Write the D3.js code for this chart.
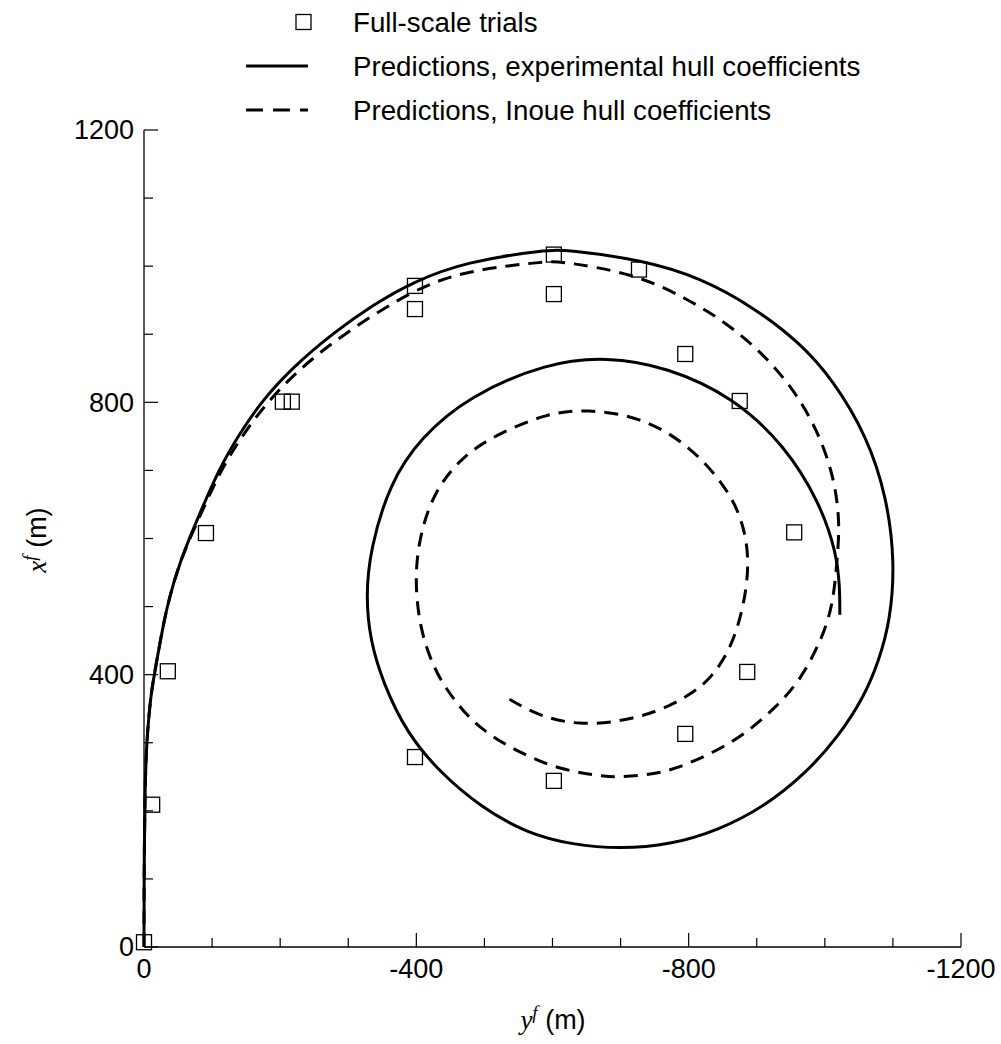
<!DOCTYPE html>
<html>
<head>
<meta charset="utf-8">
<script src="https://cdn.jsdelivr.net/npm/d3@7"></script>
<style>
  body { margin: 0; background: #fff; }
  svg { display: block; font-family: "Liberation Sans", Arial, sans-serif; }
</style>
</head>
<body>
<div id="chart"></div>
<script>
// Turning circle: y^f (m) horizontal, x^f (m) vertical

// Full-scale trials [yf, xf]
const trials = [
  [0, 7], [-12, 209], [-35, 405], [-91, 608], [-204, 801], [-217, 801],
  [-398, 971], [-398, 937], [-602, 1017], [-602, 959], [-727, 995],
  [-795, 871], [-875, 802], [-955, 609], [-886, 404], [-795, 313],
  [-602, 244], [-398, 279]
];

// Predictions, experimental hull coefficients [yf, xf]
const experimental = [
  [0, 0], [0, 94], [-1.5, 241], [-4, 300], [-7, 338], [-11, 377], [-19, 422],
  [-33, 500], [-53, 568], [-82, 637], [-112, 706], [-141, 755], [-173, 802],
  [-219, 852], [-278, 902], [-336, 943], [-395, 977], [-474, 1007], [-592, 1024],
  [-621, 1024], [-733, 1009], [-817, 983], [-895, 940], [-964, 887], [-1012, 833],
  [-1062, 750], [-1091, 661], [-1103, 564], [-1096, 480], [-1080, 422],
  [-1058, 368], [-1020, 309], [-973, 256], [-911, 206], [-845, 172], [-773, 150],
  [-699, 144], [-630, 150], [-562, 167], [-494, 206], [-435, 256], [-386, 314],
  [-351, 388], [-332, 451], [-326, 515], [-332, 583], [-361, 682], [-407, 749],
  [-477, 809], [-591, 858], [-680, 867], [-768, 852], [-865, 808], [-941, 737],
  [-993, 652], [-1017, 579], [-1022, 529], [-1022, 488]
];

// Predictions, Inoue hull coefficients [yf, xf]
const inoue = [
  [0, 0], [0, 94], [-1.5, 241], [-4, 300], [-7, 338], [-11, 377], [-19, 422],
  [-33, 500], [-53, 568], [-83, 635], [-114, 703], [-145, 752], [-179, 798],
  [-225, 846], [-285, 895], [-395, 966], [-474, 994], [-592, 1007],
  [-611, 1007], [-718, 990], [-797, 953], [-865, 911], [-929, 852], [-978, 784],
  [-1012, 701], [-1022, 627], [-1019, 579], [-1012, 499], [-993, 447],
  [-964, 392], [-929, 353], [-885, 314], [-836, 285], [-777, 260], [-743, 253],
  [-699, 250], [-680, 250], [-611, 260], [-552, 285], [-494, 319], [-454, 363],
  [-424, 411], [-405, 470], [-398, 535], [-403, 596], [-424, 667], [-470, 724],
  [-523, 755], [-592, 784], [-650, 790], [-729, 779], [-797, 740], [-852, 681],
  [-880, 627], [-890, 564], [-880, 495], [-861, 436], [-831, 392], [-797, 367],
  [-753, 345], [-699, 331], [-640, 326], [-582, 338], [-533, 366]
];

const xMajorTicks = [0, -400, -800, -1200];
const xMinorTicks = d3.range(0, -1201, -100);
const yMajorTicks = [0, 400, 800, 1200];
const yMinorTicks = d3.range(0, 1201, 100);

const legendItems = [
  { type: 'square', label: 'Full-scale trials' },
  { type: 'solid', label: 'Predictions, experimental hull coefficients' },
  { type: 'dashed', label: 'Predictions, Inoue hull coefficients' }
];

const width = 1001, height = 1044;
const plot = { left: 144, top: 130, right: 961, bottom: 947 };
const fontSize = 27;
const legendFontSize = 27.7;
const dash = '14,9';

const svg = d3.select('#chart').append('svg')
  .attr('width', width)
  .attr('height', height);

const x = d3.scaleLinear().domain([0, -1200]).range([plot.left, plot.right]);
const y = d3.scaleLinear().domain([0, 1200]).range([plot.bottom, plot.top]);

// Axes (ticks pointing inward)
const xAxis = svg.append('g').attr('transform', `translate(0,${plot.bottom})`);
xAxis.append('line')
  .attr('x1', plot.left).attr('x2', plot.right)
  .attr('stroke', '#000').attr('stroke-width', 1.3);
xAxis.selectAll('.minor')
  .data(xMinorTicks)
  .enter().append('line')
  .attr('x1', d => x(d)).attr('x2', d => x(d))
  .attr('y1', 0)
  .attr('y2', d => xMajorTicks.includes(d) ? -14 : -9)
  .attr('stroke', '#000').attr('stroke-width', 1.2);
xAxis.selectAll('.tick-label')
  .data(xMajorTicks)
  .enter().append('text')
  .attr('x', d => x(d))
  .attr('y', 31)
  .attr('text-anchor', 'middle')
  .style('font-size', fontSize + 'px')
  .text(d => d);

const yAxis = svg.append('g').attr('transform', `translate(${plot.left},0)`);
yAxis.append('line')
  .attr('y1', plot.top).attr('y2', plot.bottom)
  .attr('stroke', '#000').attr('stroke-width', 1.3);
yAxis.selectAll('.minor')
  .data(yMinorTicks)
  .enter().append('line')
  .attr('y1', d => y(d)).attr('y2', d => y(d))
  .attr('x1', 0)
  .attr('x2', d => yMajorTicks.includes(d) ? 14 : 9)
  .attr('stroke', '#000').attr('stroke-width', 1.2);
yAxis.selectAll('.tick-label')
  .data(yMajorTicks)
  .enter().append('text')
  .attr('x', -10)
  .attr('y', d => y(d))
  .attr('dy', '0.35em')
  .attr('text-anchor', 'end')
  .style('font-size', fontSize + 'px')
  .text(d => d);

// Axis titles
const xTitle = svg.append('text')
  .attr('x', 553)
  .attr('y', 1029)
  .attr('text-anchor', 'middle')
  .style('font-size', fontSize + 'px');
xTitle.append('tspan')
  .style('font-family', '"Liberation Serif", serif')
  .style('font-style', 'italic')
  .text('y');
xTitle.append('tspan')
  .attr('dy', -10)
  .style('font-family', '"Liberation Serif", serif')
  .style('font-style', 'italic')
  .style('font-size', '19px')
  .text('f');
xTitle.append('tspan')
  .attr('dy', 10)
  .text(' (m)');

const yTitle = svg.append('text')
  .attr('transform', `translate(46,540) rotate(-90)`)
  .attr('text-anchor', 'middle')
  .style('font-size', fontSize + 'px');
yTitle.append('tspan')
  .style('font-family', '"Liberation Serif", serif')
  .style('font-style', 'italic')
  .text('x');
yTitle.append('tspan')
  .attr('dy', -10)
  .style('font-family', '"Liberation Serif", serif')
  .style('font-style', 'italic')
  .style('font-size', '19px')
  .text('f');
yTitle.append('tspan')
  .attr('dy', 10)
  .text(' (m)');

// Curves
const line = d3.line()
  .x(d => x(d[0]))
  .y(d => y(d[1]))
  .curve(d3.curveBasis);

svg.append('path')
  .datum(experimental)
  .attr('d', line)
  .attr('fill', 'none')
  .attr('stroke', '#000')
  .attr('stroke-width', 3);

svg.append('path')
  .datum(inoue)
  .attr('d', line)
  .attr('fill', 'none')
  .attr('stroke', '#000')
  .attr('stroke-width', 3)
  .attr('stroke-dasharray', dash);

// Trial markers
const sq = 15;
svg.selectAll('.trial')
  .data(trials)
  .enter().append('rect')
  .attr('class', 'trial')
  .attr('x', d => x(d[0]) - sq / 2)
  .attr('y', d => y(d[1]) - sq / 2)
  .attr('width', sq)
  .attr('height', sq)
  .attr('fill', 'none')
  .attr('stroke', '#000')
  .attr('stroke-width', 1.3);

// Legend
const legend = svg.append('g');
const rowY = i => 22 + i * 44;
legendItems.forEach((item, i) => {
  const cy = rowY(i);
  if (item.type === 'square') {
    legend.append('rect')
      .attr('x', 303.5 - sq / 2).attr('y', cy - sq / 2)
      .attr('width', sq).attr('height', sq)
      .attr('fill', 'none').attr('stroke', '#000').attr('stroke-width', 1.3);
  } else {
    legend.append('line')
      .attr('x1', 246).attr('x2', 308)
      .attr('y1', cy).attr('y2', cy)
      .attr('stroke', '#000').attr('stroke-width', 3)
      .attr('stroke-dasharray', item.type === 'dashed' ? '17,10' : null);
  }
  legend.append('text')
    .attr('x', 353)
    .attr('y', cy)
    .attr('dy', '0.36em')
    .style('font-size', legendFontSize + 'px')
    .text(item.label);
});
</script>
</body>
</html>
